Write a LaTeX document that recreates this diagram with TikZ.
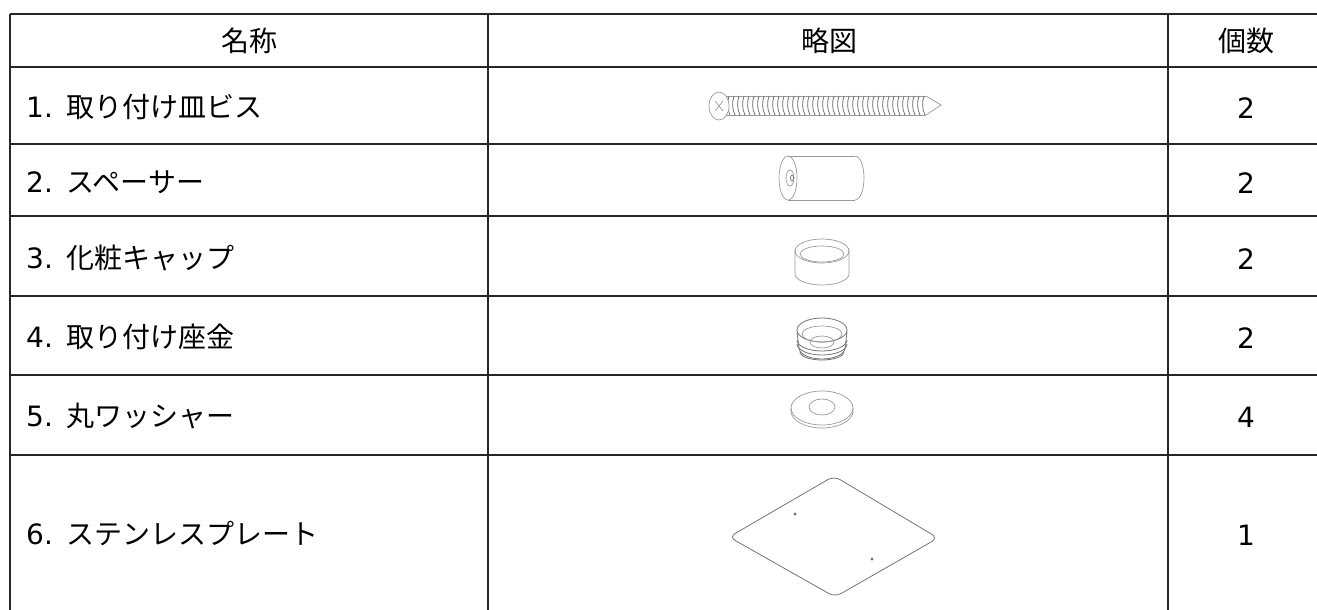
\documentclass[tikz,border=0pt]{standalone}
\usepackage{fontspec}
\setmainfont{Noto Sans CJK JP}
\newfontfamily\latinf{DejaVu Sans}
\begin{document}
\begin{tikzpicture}[x=1pt,y=-1pt,
  grid/.style={draw=black!85,line width=1.6pt},
  txt/.style={anchor=west,inner sep=0pt,font=\fontsize{28}{32}\selectfont},
  ctr/.style={anchor=center,inner sep=0pt,font=\fontsize{28}{32}\selectfont},
  art/.style={draw=black!40,line width=0.7pt},
  artd/.style={draw=black!55,line width=0.8pt}]
\useasboundingbox (0,0) rectangle (1317,610);
% grid
\foreach \yy in {14,67,144,216,296,375,455} \draw[grid] (10,\yy) -- (1317,\yy);
\draw[grid] (10,14) -- (10,610);
\draw[grid] (488,14) -- (488,610);
\draw[grid] (1168,14) -- (1168,610);
% header
\node[ctr] (h1) at (249,41) {名称};
\node[ctr] (h2) at (829,41) {略図};
\node[ctr] (h3) at (1246,41) {個数};
% names
\node[txt] (n1) at (26,107) {{\latinf 1.}\hspace{14pt}取り付け皿ビス};
\node[txt] (n2) at (26,182) {{\latinf 2.}\hspace{14pt}スペーサー};
\node[txt] (n3) at (26,258) {{\latinf 3.}\hspace{14pt}化粧キャップ};
\node[txt] (n4) at (26,337) {{\latinf 4.}\hspace{14pt}取り付け座金};
\node[txt] (n5) at (26,416) {{\latinf 5.}\hspace{14pt}丸ワッシャー};
\node[txt] (n6) at (26,534) {{\latinf 6.}\hspace{14pt}ステンレスプレート};
% counts
\node[ctr,font=\fontsize{28}{32}\latinf] (c1) at (1246,108) {2};
\node[ctr,font=\fontsize{28}{32}\latinf] (c2) at (1246,183) {2};
\node[ctr,font=\fontsize{28}{32}\latinf] (c3) at (1246,259) {2};
\node[ctr,font=\fontsize{28}{32}\latinf] (c4) at (1246,338) {2};
\node[ctr,font=\fontsize{28}{32}\latinf] (c5) at (1246,417) {4};
\node[ctr,font=\fontsize{28}{32}\latinf] (c6) at (1246,535) {1};
% 1. screw
\draw[art] (726,96) -- (926,96);
\draw[art] (726,115) -- (926,115);
\foreach \i in {0,...,39} {
  \draw[artd] ({729+5*\i},96) .. controls ({727+5*\i},102) and ({727+5*\i},109) .. ({730+5*\i},115);
}
\draw[art] (926,96) -- (941,105) -- (926,115);
\draw[art,fill=white] (719,106) ellipse [x radius=10,y radius=14];
\draw[art] (715,101) -- (723,111) (715,111) -- (723,101);
% 2. spacer
\draw[art] (788,156) -- (855,156);
\draw[art] (788,200) -- (855,200);
\draw[art] (855,156) arc[start angle=-90,end angle=90,x radius=9,y radius=22];
\draw[art] (788,178) ellipse [x radius=9,y radius=22];
\draw[art] (790,178) ellipse [x radius=4,y radius=8];
\draw[artd] (792,178) ellipse [x radius=1.5,y radius=3];
% 3. cap
\draw[art] (795,250) -- (795,274) arc[start angle=180,end angle=0,x radius=27,y radius=11] -- (849,250);
\draw[art] (822,251) ellipse [x radius=27,y radius=12];
\draw[art] (822,254) ellipse [x radius=22,y radius=8];
% 4. washer seat
\draw[artd] (822,330) ellipse [x radius=25,y radius=12];
\draw[art] (822,334) ellipse [x radius=20,y radius=8];
\draw[art] (822,342) ellipse [x radius=12,y radius=6];
\draw[artd] (797,332) -- (799,348) arc[start angle=180,end angle=0,x radius=23,y radius=11] -- (847,332);
\draw[artd] (797,340) arc[start angle=180,end angle=0,x radius=25,y radius=11];
\draw[artd] (797,344) arc[start angle=180,end angle=0,x radius=25,y radius=11];
\draw[artd] (800,352) arc[start angle=180,end angle=0,x radius=22,y radius=8];
% 5. round washer
\draw[art] (791,408) -- (791,411) arc[start angle=180,end angle=0,x radius=31,y radius=17] -- (853,408);
\draw[art] (822,408) ellipse [x radius=31,y radius=17];
\draw[art] (822,407) ellipse [x radius=13,y radius=8];
% 6. plate
\draw[artd,rounded corners=7pt] (834,476) -- (938,538) -- (835,597) -- (729,537) -- cycle;
\fill[black!55] (795,514) circle (1.6);
\fill[black!55] (872,559) circle (1.6);
\end{tikzpicture}
\end{document}
